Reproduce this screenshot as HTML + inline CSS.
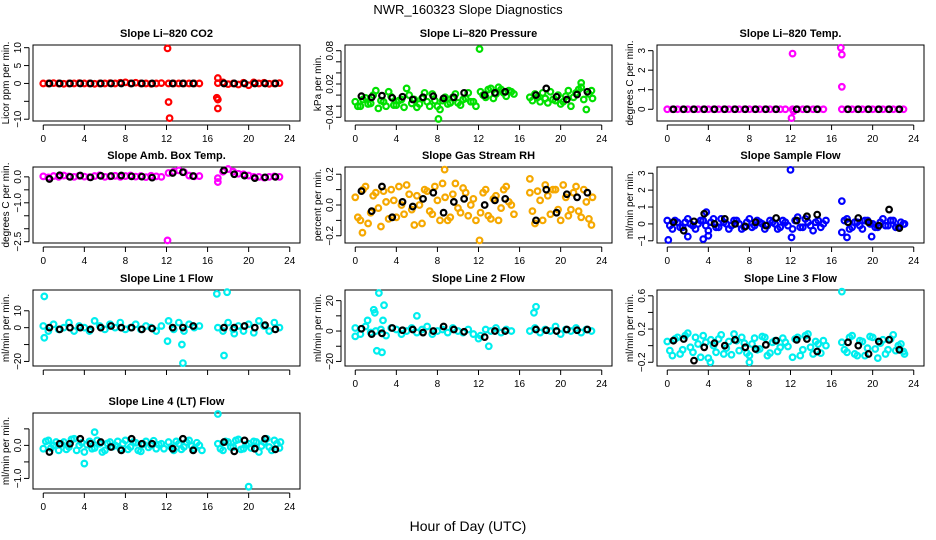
<!DOCTYPE html>
<html><head><meta charset="utf-8"><style>
body{margin:0;background:#fff}
svg{display:block;font-family:"Liberation Sans",sans-serif}
</style></head><body>
<svg id="c" width="936" height="540" viewBox="0 0 936 540">
<text x="468" y="14" text-anchor="middle" font-size="13">NWR_160323  Slope Diagnostics</text>
<text x="468" y="531" text-anchor="middle" font-size="14">Hour of Day (UTC)</text>
</svg>
<script>
const T=[0,0.5,1,1.5,2,2.5,3,3.5,4,4.5,5,5.5,6,6.5,7,7.5,8,8.5,9,9.5,10,10.5,11,11.5,12.2,12.7,13.2,13.7,14.2,14.7,15.2,17,17.5,18,18.5,19,19.5,20,20.5,21,21.5,22,22.5,23];
const T2=[0.25,0.75,1.25,1.75,2.25,2.75,3.25,3.75,4.25,4.75,5.25,5.75,6.25,6.75,7.25,7.75,8.25,8.75,9.25,9.75,10.25,10.75,11.25,11.75,12.45,12.95,13.45,13.95,14.45,14.95,15.45,17.25,17.75,18.25,18.75,19.25,19.75,20.25,20.75,21.25,21.75,22.25,22.75,23.1];
const TB=[0.6,1.6,2.6,3.6,4.6,5.6,6.6,7.6,8.6,9.6,10.6,12.6,13.6,14.6,17.6,18.6,19.6,20.6,21.6,22.6];
const xTicks=[0,4,8,12,16,20,24];

const co2Vals=[0,0,0.1,0,-0.1,0,0,0.1,0,0,-0.1,0,0,0.1,0,0.2,0.3,0,0.2,0,0,-0.1,0,0.1,0,0,0,0,0,0,0,0.1,0.3,-0.2,0,-0.3,0.2,-0.5,0.3,0,0.2,-0.1,0,0.1];
const co2Black=[0,0,0,0,0,0,0,0,0,0,0,0,0,0,0,0,0,0,0,0];
const co2OutT=[12.1,12.2,12.3,16.9,17.0,17.0,17.0];
const co2OutV=[9.8,-5.2,-9.7,-4,-4.5,-7,1.5];

const presVals=[-0.012,-0.02,-0.005,-0.015,0.008,-0.01,-0.02,-0.003,-0.018,-0.008,0.012,-0.015,-0.022,-0.006,-0.012,0.002,-0.02,-0.01,-0.016,-0.004,-0.014,-0.008,0.004,-0.012,0.006,-0.004,0.012,0.002,0.01,-0.002,0.006,-0.004,0.002,-0.012,-0.006,0.006,-0.01,-0.016,-0.002,-0.02,0.004,0.014,-0.026,0.008];
const presVals2=[-0.02,-0.008,-0.016,0.0,-0.024,-0.012,0.006,-0.018,-0.01,-0.022,0.0,-0.008,-0.016,0.004,-0.02,-0.01,-0.026,-0.004,-0.014,0.002,-0.018,-0.006,-0.012,-0.02,0.0,0.01,-0.006,0.014,0.004,0.008,0.002,-0.01,-0.004,0.004,-0.014,-0.008,0.0,-0.012,0.008,-0.004,0.01,-0.008,0.002,-0.006];
const presBlack=[-0.002,-0.004,-0.001,-0.005,-0.003,-0.008,-0.004,-0.002,-0.006,-0.004,0.004,0.0,0.004,0.006,0.0,0.012,-0.003,-0.008,0.001,0.006];
const presOutT=[12.1,8.1,22];
const presOutV=[0.083,-0.043,0.022];

const tempVals=[0,0,0,0,0,0,0,0,0,0,0,0,0,0,0,0,0,0,0,0,0,0,0,0,0,0,0,0,0,0,0,0,0,0,0,0,0,0,0,0,0,0,0,0];
const tempBlack=[0,0,0,0,0,0,0,0,0,0,0,0,0,0,0,0,0,0,0,0];
const tempOutT=[12.1,12.2,12.3,16.9,17.0,17.0];
const tempOutV=[-0.45,2.85,-0.1,3.15,2.8,1.15];

const ambVals=[0.02,-0.02,0.03,0,0.05,0.02,0,0.04,0.01,-0.01,0.03,0.06,0,0.02,0.04,0,0.03,0.05,0.01,0.03,-0.01,0.04,0.02,0,0.15,0.2,0.25,0.18,0.05,0.02,0.03,-0.05,0.2,0.3,0.2,0.12,0.1,0.05,0,0,-0.03,0,0.02,0];
const ambBlack=[-0.08,0.06,0,0.05,-0.02,0.04,0.03,0.05,0.02,0.01,-0.03,0.15,0.18,0.03,0.25,0.1,0.05,-0.05,-0.02,0];
const ambOutT=[12.1,17];
const ambOutV=[-2.45,-0.2];

const rhVals=[0.05,-0.1,0.12,-0.05,0.08,-0.14,0.02,0.1,-0.08,0.0,0.13,-0.03,0.06,-0.12,0.09,-0.06,0.03,0.14,-0.1,0.07,-0.02,0.11,-0.07,0.04,-0.05,0.1,-0.09,0.06,-0.02,0.12,0.0,0.08,-0.12,0.03,0.13,-0.06,0.1,-0.1,0.05,-0.03,0.12,-0.08,0.02,-0.13];
const rhVals2=[-0.08,0.1,-0.12,0.06,-0.02,0.09,-0.09,0.03,0.12,-0.06,0.07,-0.13,0.0,0.1,-0.04,0.12,-0.1,0.05,-0.08,0.14,-0.05,0.08,0.0,-0.1,0.08,-0.07,0.04,-0.1,0.1,0.02,-0.06,-0.04,0.09,-0.1,0.06,0.1,-0.03,0.13,-0.07,0.08,-0.04,0.1,-0.09,0.05];
const rhBlack=[0.09,-0.04,0.12,-0.08,0.02,-0.01,0.04,0.08,-0.05,0.02,0.04,0.0,0.03,0.04,-0.1,0.1,-0.05,0.07,0.05,0.08];
const rhOutT=[8.7,12.1,17,0.7];
const rhOutV=[0.23,-0.23,0.17,-0.18];

const flowVals=[0.2,-0.3,0.1,-0.2,0.3,-0.1,0.0,0.2,-0.4,0.3,-0.2,0.1,-0.3,0.2,0.0,-0.2,0.3,-0.1,0.1,-0.3,0.2,0.0,-0.2,0.1,-0.3,0.4,-0.2,0.1,-0.4,0.2,0.0,-0.5,0.3,-0.2,0.1,-0.3,0.2,0.0,-0.2,0.3,-0.1,0.2,-0.2,0.0];
const flowVals2=[-0.1,0.2,-0.2,0.1,0,-0.3,0.2,-0.1,0.1,-0.2,0.3,0,-0.1,0.2,-0.3,0.1,-0.2,0.2,0,-0.1,0.1,-0.3,0.2,-0.1,0.2,-0.2,0.3,-0.1,0.1,-0.2,0.2,0.2,-0.3,0.1,-0.1,0.2,0,-0.2,0.1,-0.1,0.2,-0.2,0.1,0];
const flowBlack=[0.1,-0.4,0.15,0.6,0.0,0.3,0.0,-0.15,0.1,-0.1,0.35,0.2,0.45,0.55,0.1,0.35,0.1,-0.1,0.85,-0.25];
const flowOutT=[0.1,2,3.5,3.8,4,12.0,12.1,17,17.5,19.9];
const flowOutV=[-0.95,-0.75,-0.9,0.7,-0.7,3.2,-0.8,1.35,-0.8,-0.75];

const l1Vals=[1,-2,2,-1,0,3,-2,1,0,-2,4,1,-1,2,0,3,-1,0,2,-1,1,0,-2,1,4,-1,3,-2,2,0,1,0,-2,3,-1,1,-2,2,-3,4,1,-2,3,0];
const l1Black=[0,-1,0,0,-1,0,1,0,0,-1,-0.5,0,0,1,0,0,1,0,1.5,-1];
const l1OutT=[0.1,0.1,12.1,13.5,13.6,16.9,17.6,17.9,18.6];
const l1OutV=[18.5,-6,-8,-10,-21,20,-16.5,21,-3.5];

const l2Vals=[2,-2,3,-1,0,1,-3,2,1,-2,0,2,-1,1,3,-2,0,1,-1,2,0,-1,1,-2,-3,1,0,2,-1,1,0,0,2,-1,1,0,3,-2,1,0,2,-1,1,0];
const l2Black=[1.5,-2,-1.5,2,0.5,1,-1,0,3,1,-0.5,-4,0,0,1,0.5,0,1,0.5,1];
const l2OutT=[0,1.2,1.8,1.9,2.1,2.3,2.7,2.8,2.6,12,13,17.4,17.6,6.0];
const l2OutV=[-3.5,7,14,12,-13,25,7,17,-14,-5,-10,12,16,10];

const l3Vals=[0.05,-0.12,0.1,-0.05,0.15,-0.08,0.02,0.12,-0.15,0,0.08,-0.1,0.05,0.14,-0.06,0.03,-0.12,0.09,-0.04,0.1,-0.09,0.06,-0.02,0.04,-0.14,0.1,-0.05,0.14,-0.1,0.02,0.06,0.04,-0.08,0.12,-0.12,0.05,-0.03,0.1,-0.15,0.07,-0.05,0.13,0.0,-0.07];
const l3Vals2=[-0.06,0.08,-0.1,0.12,-0.02,0.1,-0.14,0.04,0.07,-0.08,0.13,-0.03,-0.11,0.06,0.1,-0.09,0.02,-0.05,0.11,-0.12,0.04,-0.07,0.09,-0.01,0.08,-0.12,0.12,-0.02,0.05,-0.09,0.0,-0.05,0.1,-0.1,0.06,-0.12,0.11,-0.04,0.03,-0.1,0.08,-0.06,0.02,-0.1];
const l3Black=[0.06,0.08,-0.18,-0.02,0.03,0.0,0.07,-0.02,-0.04,0.01,0.06,0.07,0.08,-0.07,0.04,0.0,-0.1,0.05,0.07,-0.05];
const l3OutT=[17,8,4.2];
const l3OutV=[0.65,-0.2,-0.2];

const l4Vals=[-0.1,0.15,0,-0.15,0.1,-0.05,0.2,0,-0.2,0.12,-0.08,0.05,-0.15,0.1,0,-0.1,0.15,-0.05,0.08,-0.18,0.12,0,-0.1,0.05,0.1,-0.15,0.05,-0.05,0.15,-0.1,0,0.05,-0.15,0.1,-0.05,0.18,-0.1,0.05,0.12,-0.2,0.1,-0.05,0.15,-0.08];
const l4Vals2=[0.12,-0.08,0.1,0.05,-0.12,0.18,-0.15,0.08,0.02,-0.1,0.15,-0.2,0.06,-0.04,0.12,0.05,-0.12,0.1,-0.15,0.04,-0.06,0.14,0.02,-0.1,-0.05,0.12,-0.12,0.1,-0.02,0.08,-0.15,-0.1,0.12,-0.05,0.15,-0.12,0.02,-0.08,0.1,-0.02,0.2,-0.15,0.05,0.1];
const l4Black=[-0.2,0.05,0.05,0.2,0.05,0.1,-0.05,-0.15,0.2,0.05,0.05,-0.1,0.2,-0.15,0.1,-0.18,0.15,-0.1,0.2,-0.12];
const l4OutT=[17,20,4,5];
const l4OutV=[0.95,-1.25,-0.55,0.4];

const panels=[
 {id:'co2',title:'Slope Li\u2013820 CO2',ylab:'Licor ppm per min.',col:0,row:0,yr:[-10.5,10.75],ticks:[-10,-5,0,5,10],labels:['\u221210','','0','5','10'],color:'#ff0000',v:co2Vals,b:co2Black,ot:co2OutT,ov:co2OutV},
 {id:'pressure',title:'Slope Li\u2013820 Pressure',ylab:'kPa per min.',col:1,row:0,yr:[-0.0467,0.0903],ticks:[-0.04,-0.02,0,0.02,0.04,0.06,0.08],labels:['\u22120.04','','','0.02','','','0.08'],color:'#00e000',v:presVals,v2:presVals2,b:presBlack,ot:presOutT,ov:presOutV},
 {id:'temp',title:'Slope Li\u2013820 Temp.',ylab:'degrees C per min.',col:2,row:0,yr:[-0.6,3.29],ticks:[0,1,2,3],labels:['0','1','2','3'],color:'#ff00ff',v:tempVals,b:tempBlack,ot:tempOutT,ov:tempOutV},
 {id:'amb-box',title:'Slope Amb. Box Temp.',ylab:'degrees C per min.',col:0,row:1,yr:[-2.55,0.38],ticks:[-2.5,-2,-1.5,-1,-0.5,0],labels:['\u22122.5','','','\u22121.0','','0.0'],color:'#ff00ff',v:ambVals,b:ambBlack,ot:ambOutT,ov:ambOutV},
 {id:'rh',title:'Slope Gas Stream RH',ylab:'percent per min.',col:1,row:1,yr:[-0.247,0.247],ticks:[-0.2,-0.1,0,0.1,0.2],labels:['\u22120.2','','0.0','','0.2'],color:'#f5a800',v:rhVals,v2:rhVals2,b:rhBlack,ot:rhOutT,ov:rhOutV},
 {id:'sample-flow',title:'Slope Sample Flow',ylab:'ml/min per min.',col:2,row:1,yr:[-1.13,3.37],ticks:[-1,0,1,2,3],labels:['\u22121','0','1','2','3'],color:'#0000ff',v:flowVals,v2:flowVals2,b:flowBlack,ot:flowOutT,ov:flowOutV},
 {id:'line1',title:'Slope Line 1 Flow',ylab:'ml/min per min.',col:0,row:2,yr:[-22.7,22.3],ticks:[-20,-10,0,10],labels:['\u221220','','0','10'],color:'#00eeee',v:l1Vals,b:l1Black,ot:l1OutT,ov:l1OutV},
 {id:'line2',title:'Slope Line 2 Flow',ylab:'ml/min per min.',col:1,row:2,yr:[-23,27],ticks:[-20,-10,0,10,20],labels:['\u221220','','0','','20'],color:'#00eeee',v:l2Vals,b:l2Black,ot:l2OutT,ov:l2OutV},
 {id:'line3',title:'Slope Line 3 Flow',ylab:'ml/min per min.',col:2,row:2,yr:[-0.245,0.67],ticks:[-0.2,0,0.2,0.4,0.6],labels:['\u22120.2','','0.2','','0.6'],color:'#00eeee',v:l3Vals,v2:l3Vals2,b:l3Black,ot:l3OutT,ov:l3OutV},
 {id:'line4',title:'Slope Line 4 (LT) Flow',ylab:'ml/min per min.',col:0,row:3,yr:[-1.32,0.98],ticks:[-1,-0.5,0,0.5],labels:['\u22121.0','','0.0',''],color:'#00eeee',v:l4Vals,v2:l4Vals2,b:l4Black,ot:l4OutT,ov:l4OutV}
];
const NS='http://www.w3.org/2000/svg';
const svg=document.getElementById('c');
const colL=[33,345,657],rowT=[45,167,290,413],W=267,H=76;
function mk(tag,attrs,parent){const e=document.createElementNS(NS,tag);for(const k in attrs)e.setAttribute(k,attrs[k]);parent.appendChild(e);return e;}
panels.forEach(p=>{
  const L=colL[p.col],Tp=rowT[p.row];
  const xs=h=>L+(h+1)/26*W;
  const ys=v=>Tp+H-(v-p.yr[0])/(p.yr[1]-p.yr[0])*H;
  const g=mk('g',{},svg);
  
  
  const t=mk('text',{x:L+W/2,y:Tp-8,'text-anchor':'middle','font-size':11,'font-weight':'bold'},g);
  t.textContent=p.title;
  
  
  const yl=mk('text',{x:0,y:0,transform:`translate(${L-24},${Tp+H/2}) rotate(-90)`,'text-anchor':'middle','font-size':10},g);
  yl.textContent=p.ylab;
  
  
  const box=mk('rect',{x:L,y:Tp,width:W,height:H,fill:'none',stroke:'#000','stroke-width':1},g);
  
  
  const xa=mk('g',{},g);
  
  
  mk('line',{x1:xs(0),x2:xs(24),y1:Tp+H+4,y2:Tp+H+4,stroke:'#000'},xa);
  xTicks.forEach(v=>{
    mk('line',{x1:xs(v),x2:xs(v),y1:Tp+H+4,y2:Tp+H+9,stroke:'#000'},xa);
    if(!(p.row===2&&p.col===0)){const tl=mk('text',{x:xs(v),y:Tp+H+21,'text-anchor':'middle','font-size':10},xa);tl.textContent=v;
    
    }
  });
  const ya=mk('g',{},g);
  
  
  mk('line',{x1:L-4,x2:L-4,y1:ys(p.ticks[0]),y2:ys(p.ticks[p.ticks.length-1]),stroke:'#000'},ya);
  p.ticks.forEach((v,i)=>{
    mk('line',{x1:L-9,x2:L-4,y1:ys(v),y2:ys(v),stroke:'#000'},ya);
    if(p.labels[i]){const tl=mk('text',{x:0,y:0,transform:`translate(${L-12},${ys(v)}) rotate(-90)`,'text-anchor':'middle','font-size':10},ya);tl.textContent=p.labels[i];
    
    }
  });
  const pts=mk('g',{fill:'none','stroke-width':2.2},g);
  
  
  const dot=(h,v,c,name)=>{const e=mk('circle',{cx:xs(h),cy:ys(v),r:2.8,stroke:c},pts);
    
    };
  p.v.forEach((v,i)=>dot(T[i],v,p.color,'point'));
  if(p.v2)p.v2.forEach((v,i)=>dot(T2[i],v,p.color,'point'));
  p.ot.forEach((h,i)=>dot(h,p.ov[i],p.color,'outlier-point'));
  p.b.forEach((v,i)=>dot(TB[i],v,'#000','hourly-point'));
});
</script>
</body></html>
